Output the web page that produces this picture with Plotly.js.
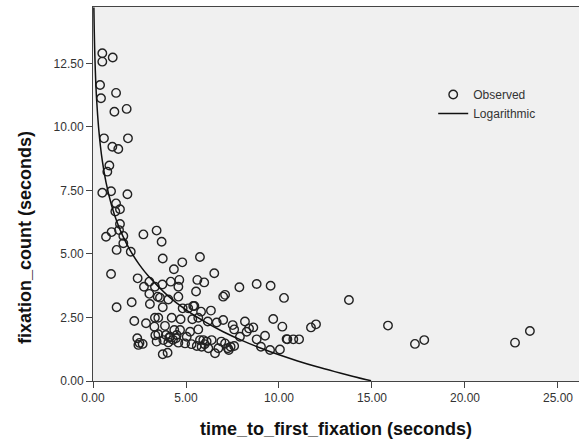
<!DOCTYPE html>
<html>
<head>
<meta charset="utf-8">
<script src="https://cdn.plot.ly/plotly-3.0.1.min.js"></script>
<style>html,body{margin:0;padding:0;background:#fff;}#chart{width:579px;height:439px;}</style>
</head>
<body>
<div id="chart"></div>
<script>
// Observed points (time_to_first_fixation, fixation_count)
const obsX = [0.50,0.50,1.06,0.38,0.43,1.24,1.15,1.81,0.59,1.04,1.36,1.88,0.88,0.77,0.50,0.97,1.85,1.24,1.45,1.20,
  1.45,1.40,1.00,0.70,1.63,1.63,1.27,2.03,2.71,3.42,3.69,3.75,4.80,4.35,0.97,2.40,1.27,2.08,2.22,2.74,
  3.03,3.33,3.73,4.18,4.64,4.59,3.03,3.48,3.60,4.05,4.59,3.06,3.75,4.82,2.85,3.33,3.51,4.23,4.71,3.30,
  3.87,3.51,3.35,4.37,4.68,3.92,4.14,4.50,3.42,3.78,4.05,4.59,2.38,2.44,2.67,2.50,3.75,4.01,4.95,4.46,
  5.75,6.52,5.61,5.98,5.54,7.87,8.80,9.55,10.27,7.00,7.10,5.39,5.12,5.81,6.34,5.34,5.66,6.17,6.65,7.00,
  7.51,8.17,8.39,8.62,8.26,7.59,9.69,10.18,10.41,9.25,8.80,9.03,9.52,10.05,5.66,5.22,5.04,5.75,5.93,6.11,
  6.38,5.58,5.84,6.20,6.56,6.74,7.10,7.30,7.40,7.25,7.59,7.90,5.30,6.00,6.90,5.45,4.30,4.10,
  13.76,11.72,11.99,10.45,10.77,11.08,15.86,17.31,17.81,22.69,23.49];
const obsY = [12.90,12.57,12.73,11.65,11.13,11.34,10.60,10.71,9.55,9.22,9.13,9.55,8.48,8.24,7.41,7.47,7.35,6.99,6.76,6.67,
  6.18,5.94,5.86,5.68,5.71,5.42,5.16,5.09,5.77,5.92,5.48,4.82,4.67,4.40,4.21,4.04,2.90,3.10,2.36,3.71,
  3.91,3.71,3.80,3.91,3.98,3.71,3.43,3.32,3.28,3.21,3.32,3.03,2.90,2.86,2.27,2.49,2.49,2.49,2.43,2.14,
  2.17,1.84,1.80,2.01,2.01,1.81,1.74,1.81,1.55,1.61,1.52,1.51,1.68,1.42,1.46,1.50,1.05,1.11,1.48,1.68,
  4.88,4.24,3.98,3.88,3.52,3.69,3.82,3.75,3.27,3.32,3.39,2.95,2.86,2.73,2.77,2.43,2.49,2.34,2.30,2.40,
  2.20,2.34,2.07,2.11,1.94,2.03,2.44,2.14,1.65,1.78,1.64,1.35,1.22,1.24,2.03,1.94,1.74,1.61,1.61,1.55,
  1.61,1.38,1.35,1.29,1.09,1.29,1.48,1.22,1.35,1.29,1.38,1.74,1.45,1.45,1.55,2.95,1.62,1.70,
  3.19,2.11,2.23,1.64,1.64,1.64,2.18,1.46,1.61,1.51,1.97];

// Logarithmic fit curve
const fitX = [0.047,0.06,0.08,0.1,0.15,0.2,0.3,0.4,0.5,0.7,1.0,1.3,1.6,2.0,2.5,3,4,5,6,7,8,9,10,11,12,13,14,14.95];
const fitY = [14.70,14.08,13.35,12.78,11.74,11.01,9.98,9.24,8.67,7.82,6.91,6.24,5.71,5.14,4.57,4.11,3.37,2.80,2.34,1.94,1.60,1.30,1.03,0.79,0.57,0.37,0.18,0.01];

const xTicks = [0,5,10,15,20,25];
const yTicks = [0,2.5,5,7.5,10,12.5];
const xTitle = 'time_to_first_fixation (seconds)';
const yTitle = 'fixation_count (seconds)';

const FONT = 'Liberation Sans, Arial, sans-serif';

const traces = [
  {
    x: obsX, y: obsY, type: 'scatter', mode: 'markers', name: 'Observed',
    marker: {symbol: 'circle-open', size: 8.5, color: '#222', line: {width: 1.4, color: '#222'}}
  },
  {
    x: fitX, y: fitY, type: 'scatter', mode: 'lines', name: 'Logarithmic',
    line: {color: '#111', width: 1.5, shape: 'spline'}
  }
];

const layout = {
  width: 579, height: 439,
  margin: {l: 93, r: 0, t: 7, b: 58},
  paper_bgcolor: '#ffffff',
  plot_bgcolor: '#f0f0f0',
  font: {family: FONT, size: 12, color: '#333'},
  showlegend: true,
  legend: {x: 0.70, y: 0.805, xanchor: 'left', yanchor: 'top', bgcolor: 'rgba(0,0,0,0)',
    font: {family: FONT, size: 12, color: '#333'}, itemwidth: 30, tracegroupgap: 0},
  xaxis: {
    range: [0, 26.13], tickvals: xTicks, tickformat: '.2f',
    ticks: 'outside', ticklen: 6, tickcolor: '#444', tickwidth: 1,
    showline: true, linecolor: '#444', linewidth: 1, mirror: true,
    showgrid: false, zeroline: false,
    tickfont: {family: FONT, size: 12, color: '#333'},
    title: {text: xTitle, font: {family: FONT, size: 18, color: '#111', weight: 'bold'}, standoff: 17}
  },
  yaxis: {
    range: [0, 14.72], tickvals: yTicks, tickformat: '.2f',
    ticks: 'outside', ticklen: 6, tickcolor: '#444', tickwidth: 1,
    showline: true, linecolor: '#444', linewidth: 1,
    showgrid: false, zeroline: false,
    tickfont: {family: FONT, size: 12, color: '#333'}
  },
  annotations: [{
    text: yTitle, textangle: -90, showarrow: false,
    xref: 'paper', yref: 'paper', x: (25 - 93) / 486, y: (381 - 238) / 374,
    xanchor: 'center', yanchor: 'middle',
    font: {family: FONT, size: 18, color: '#111', weight: 'bold'}
  }]
};

Plotly.newPlot('chart', traces, layout, {displayModeBar: false, staticPlot: true});
</script>
</body>
</html>
